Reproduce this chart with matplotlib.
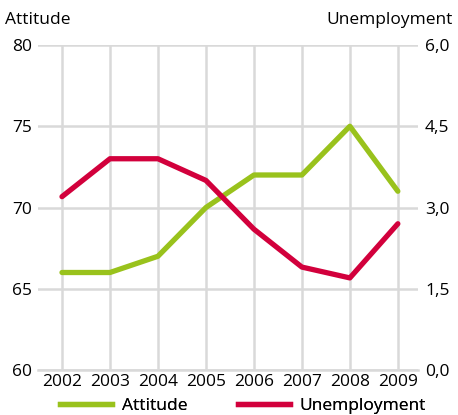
import matplotlib
matplotlib.use("Agg")
import matplotlib.pyplot as plt
from matplotlib.lines import Line2D

plt.rcParams['font.family'] = ['Open Sans', 'DejaVu Sans']

years = [2002, 2003, 2004, 2005, 2006, 2007, 2008, 2009]
attitude = [66, 66, 67, 70, 72, 72, 75, 71]
unemployment = [3.2, 3.9, 3.9, 3.5, 2.6, 1.9, 1.7, 2.7]
left_ticks = [60, 65, 70, 75, 80]
right_ticks = [0.0, 1.5, 3.0, 4.5, 6.0]

green = '#99c21c'
red = '#d2003c'
grid = '#d9d9d9'

fig = plt.figure(figsize=(4.58, 4.15), dpi=100)
ax = fig.add_axes([38 / 458, 45 / 415, 380 / 458, 325 / 415])
ax2 = ax.twinx()

ax.plot(years, attitude, color=green, lw=3.8, solid_capstyle='round', zorder=3)
ax2.plot(years, unemployment, color=red, lw=3.8, solid_capstyle='round', zorder=3)

ax.set_xlim(2001.5, 2009.42)
ax.set_ylim(60, 80)
ax2.set_ylim(0, 6)
ax.set_xticks(years)
ax.set_yticks(left_ticks)
ax2.set_yticks(right_ticks)
ax2.set_yticklabels([f"{v:.1f}".replace('.', ',') for v in right_ticks])

ax.grid(True, color=grid, lw=1.8)
ax.set_axisbelow(True)
for a in (ax, ax2):
    for s in a.spines.values():
        s.set_visible(False)
    a.tick_params(length=0, labelsize=12.5, colors='black')
ax.spines['bottom'].set_visible(True)
ax.spines['bottom'].set_color(grid)
ax.spines['bottom'].set_linewidth(1.8)
ax.tick_params(axis='y', pad=4)
ax.tick_params(axis='x', pad=3)
ax2.tick_params(axis='y', pad=5)

fig.text(5 / 458, 1 - 20 / 415, "Attitude", fontsize=12.5, va='center', ha='left')
fig.text(453 / 458, 1 - 20 / 415, "Unemployment", fontsize=12.5, va='center', ha='right')

# two legend entries placed separately to match the spacing
leg_y = 1 - 406 / 415
for color, label, x0 in [(green, "Attitude", 60), (red, "Unemployment", 238)]:
    leg = fig.legend([Line2D([], [], color=color, lw=3.8)], [label],
                     loc='center left', bbox_to_anchor=(x0 / 458, leg_y),
                     frameon=False, fontsize=12.5, borderpad=0, borderaxespad=0,
                     handlelength=3.0, handletextpad=0.55)
    fig.add_artist(leg)

fig.savefig("out.png", dpi=100)
